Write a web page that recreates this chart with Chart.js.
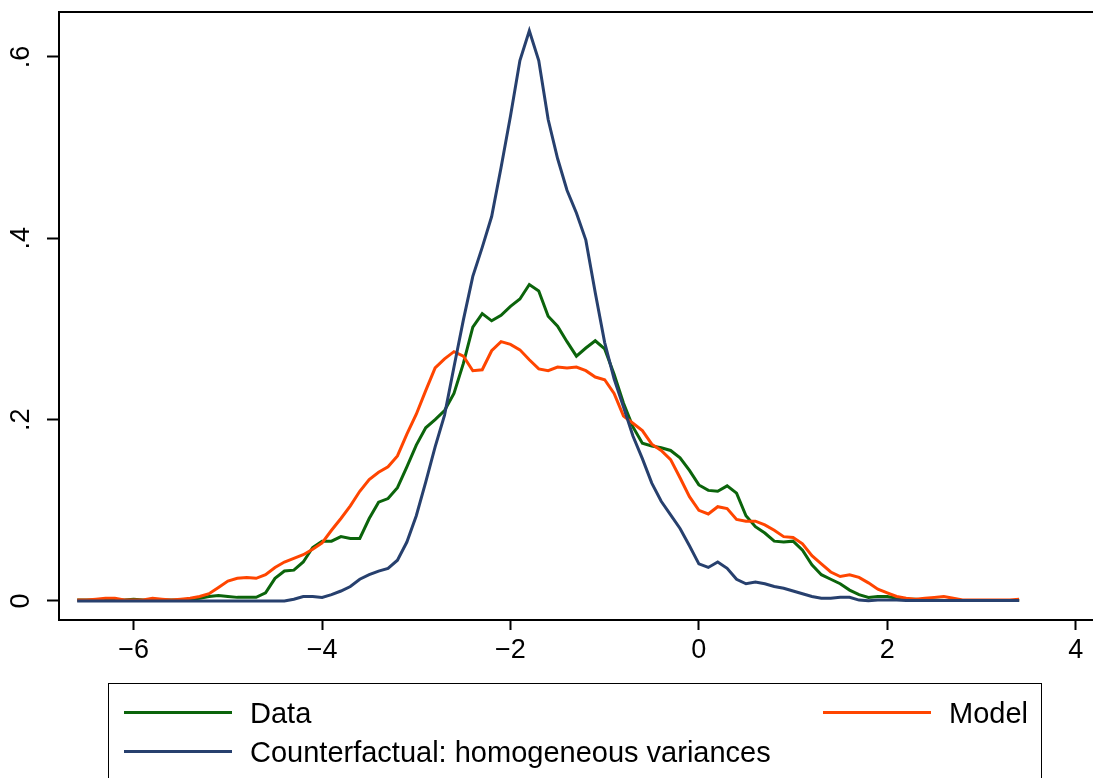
<!DOCTYPE html>
<html>
<head>
<meta charset="utf-8">
<script src="https://cdn.jsdelivr.net/npm/chart.js@4"></script>
<style>
  body { margin: 0; background: #fff; }
  #wrap { position: relative; width: 1093px; height: 778px; overflow: hidden; }
  #legend {
    position: absolute; left: 108px; top: 683px; width: 934px; height: 120px;
    border: 1.5px solid #000; box-sizing: border-box;
    font-family: "Liberation Sans", Arial, sans-serif; font-size: 29px; color: #000;
  }
  .item { position: absolute; height: 30px; line-height: 30px; white-space: nowrap; }
  .item span.sw { position: absolute; left: 0; top: 13px; width: 108px; height: 3px; }
  .item span.lb { position: absolute; left: 126px; top: 0; }
</style>
</head>
<body>
<div id="wrap">
  <canvas id="chart" width="1093" height="778"></canvas>
  <div id="legend"></div>
</div>
<script>
// density grid
const xs = [
  -6.6, -6.5, -6.4, -6.3, -6.2, -6.1, -6.0, -5.9, -5.8, -5.7, -5.6, -5.5, -5.4, -5.3, -5.2, -5.1, -5.0,
  -4.9, -4.8, -4.7, -4.6, -4.5, -4.4, -4.3, -4.2, -4.1, -4.0, -3.9, -3.8, -3.7, -3.6, -3.5, -3.4, -3.3,
  -3.2, -3.1, -3.0, -2.9, -2.8, -2.7, -2.6, -2.5, -2.4, -2.3, -2.2, -2.1, -2.0, -1.9, -1.8, -1.7, -1.6,
  -1.5, -1.4, -1.3, -1.2, -1.1, -1.0, -0.9, -0.8, -0.7, -0.6, -0.5, -0.4, -0.3, -0.2, -0.1, 0.0,
  0.1, 0.2, 0.3, 0.4, 0.5, 0.6, 0.7, 0.8, 0.9, 1.0, 1.1, 1.2, 1.3, 1.4, 1.5, 1.6, 1.7, 1.8, 1.9, 2.0,
  2.1, 2.2, 2.3, 2.4, 2.5, 2.6, 2.7, 2.8, 2.9, 3.0, 3.1, 3.2, 3.3, 3.4
]

const dataDensity = [
  0.001, 0.001, 0.001, 0.001, 0.001, 0.001, 0.002, 0.001, 0.001, 0.001, 0.001, 0.001, 0.002, 0.003, 0.005, 0.006, 0.005,
  0.004, 0.004, 0.004, 0.009, 0.025, 0.033, 0.034, 0.043, 0.059, 0.066, 0.066, 0.071, 0.069, 0.069, 0.091, 0.109, 0.113,
  0.125, 0.148, 0.172, 0.191, 0.200, 0.210, 0.229, 0.262, 0.302, 0.317, 0.309, 0.315, 0.325, 0.333, 0.349, 0.342, 0.314,
  0.303, 0.286, 0.270, 0.279, 0.287, 0.278, 0.250, 0.218, 0.192, 0.174, 0.171, 0.169, 0.166, 0.158, 0.144, 0.128,
  0.122, 0.121, 0.127, 0.119, 0.094, 0.082, 0.075, 0.066, 0.065, 0.066, 0.056, 0.040, 0.029, 0.024, 0.019, 0.012, 0.007, 0.004, 0.005, 0.005,
  0.003, 0.002, 0.002, 0.001, 0.001, 0.0005, 0.0005, 0.0005, 0.0005, 0.0005, 0.0005, 0.0005, 0.0005, 0.0005
]

const modelDensity = [
  0.001, 0.001, 0.002, 0.003, 0.003, 0.001, 0.001, 0.001, 0.003, 0.002, 0.001, 0.002, 0.003, 0.005, 0.008, 0.015, 0.022,
  0.025, 0.026, 0.025, 0.029, 0.037, 0.043, 0.047, 0.051, 0.057, 0.064, 0.078, 0.091, 0.105, 0.121, 0.134, 0.142, 0.148,
  0.160, 0.184, 0.206, 0.232, 0.257, 0.267, 0.275, 0.270, 0.254, 0.255, 0.276, 0.286, 0.283, 0.277, 0.266, 0.256, 0.254,
  0.258, 0.257, 0.258, 0.254, 0.247, 0.244, 0.229, 0.204, 0.196, 0.188, 0.173, 0.166, 0.156, 0.136, 0.115, 0.100,
  0.096, 0.104, 0.102, 0.090, 0.088, 0.088, 0.084, 0.078, 0.071, 0.070, 0.063, 0.050, 0.041, 0.032, 0.027, 0.029, 0.026, 0.020, 0.013, 0.009,
  0.005, 0.003, 0.002, 0.003, 0.004, 0.005, 0.003, 0.001, 0.001, 0.001, 0.001, 0.001, 0.001, 0.002
]

const homogDensity = [
  0, 0, 0, 0, 0, 0, 0, 0, 0, 0, 0, 0, 0, 0, 0, 0, 0,
  0, 0, 0, 0, 0, 0, 0.002, 0.005, 0.005, 0.004, 0.007, 0.011, 0.016, 0.024, 0.029, 0.033, 0.036,
  0.045, 0.065, 0.094, 0.131, 0.170, 0.205, 0.258, 0.310, 0.358, 0.390, 0.424, 0.478, 0.535, 0.596, 0.629, 0.596, 0.531,
  0.488, 0.453, 0.428, 0.398, 0.340, 0.285, 0.245, 0.214, 0.182, 0.157, 0.130, 0.110, 0.095, 0.080, 0.061, 0.041,
  0.037, 0.043, 0.036, 0.024, 0.019, 0.021, 0.019, 0.016, 0.014, 0.011, 0.008, 0.005, 0.003, 0.003, 0.004, 0.004, 0.001, 0.0003, 0.001, 0.001,
  0.001, 0.0005, 0.0005, 0.0005, 0.0005, 0.0005, 0.0005, 0.0005, 0.0005, 0.0005, 0.0005, 0.0005, 0.0005, 0.0005
]

const xTicks = [-6, -4, -2, 0, 2, 4]
const yTicks = [0, 0.2, 0.4, 0.6]

const COLORS = {
  data: `#0b640b`,
  model: `#ff4500`,
  homog: `#27406e`
}
const FONT = `"Liberation Sans", Arial, sans-serif`

const series = [
  { label: `Data`, values: dataDensity, color: COLORS.data, pos: { left: 15, top: 14 } },
  { label: `Model`, values: modelDensity, color: COLORS.model, pos: { left: 714, top: 14 } },
  { label: `Counterfactual: homogeneous variances`, values: homogDensity, color: COLORS.homog, pos: { left: 15, top: 53 } }
]

const toPoints = values => values.map((y, i) => ({ x: xs[i], y }))
const fmtX = v => v < 0 ? `\u2212${Math.abs(v)}` : `${v}`
const fmtY = v => v === 0 ? `0` : String(v).replace(/^0/, ``)

// the frame line across the top of the plot region
const topLine = {
  id: `topLine`,
  afterDraw(chart) {
    const { ctx, chartArea } = chart
    ctx.save()
    ctx.strokeStyle = `#000`
    ctx.lineWidth = 2
    ctx.beginPath()
    ctx.moveTo(chartArea.left - 1, chartArea.top)
    ctx.lineTo(chartArea.right, chartArea.top)
    ctx.stroke()
    ctx.restore()
  }
}

const renderChart = () => {
  const el = document.getElementById(`chart`).getContext(`2d`)
  new Chart(el, {
    type: `line`,
    data: {
      datasets: series.map(s => ({
        label: s.label,
        data: toPoints(s.values),
        borderColor: s.color,
        borderWidth: 3,
        pointRadius: 0,
        tension: 0,
        fill: false
      })).reverse()
    },
    options: {
      responsive: false,
      animation: false,
      layout: { padding: { top: 12, right: 0, bottom: 108, left: 0 } },
      plugins: { legend: { display: false }, tooltip: { enabled: false } },
      scales: {
        x: {
          type: `linear`,
          min: -6.793,
          max: 4.184,
          afterBuildTicks: scale => { scale.ticks = xTicks.map(value => ({ value })) },
          afterFit: scale => { scale.height = 50; scale.paddingLeft = 0; scale.paddingRight = 0 },
          border: { display: true, color: `#000`, width: 2 },
          grid: { drawOnChartArea: false, color: `#000`, tickLength: 10, tickWidth: 2 },
          ticks: { color: `#000`, font: { family: FONT, size: 27 }, padding: 4, maxRotation: 0, callback: fmtX }
        },
        y: {
          min: -0.02096,
          max: 0.6496,
          afterBuildTicks: scale => { scale.ticks = yTicks.map(value => ({ value })) },
          afterFit: scale => { scale.width = 59; scale.paddingTop = 0; scale.paddingBottom = 0 },
          border: { display: true, color: `#000`, width: 2 },
          grid: { drawOnChartArea: false, color: `#000`, tickLength: 12, tickWidth: 2 },
          ticks: { color: `#000`, font: { family: FONT, size: 27 }, padding: 14, minRotation: 90, maxRotation: 90, crossAlign: `center`, callback: fmtY }
        }
      }
    },
    plugins: [ topLine ]
  })
}

const renderLegend = () => {
  const box = document.getElementById(`legend`)
  series.forEach(s => {
    const item = document.createElement(`div`)
    item.className = `item`
    item.style.left = `${s.pos.left}px`
    item.style.top = `${s.pos.top}px`
    item.innerHTML = `<span class="sw" style="background:${s.color}"></span><span class="lb">${s.label}</span>`
    box.appendChild(item)
  })
}

renderChart()
renderLegend()
</script>
</body>
</html>
